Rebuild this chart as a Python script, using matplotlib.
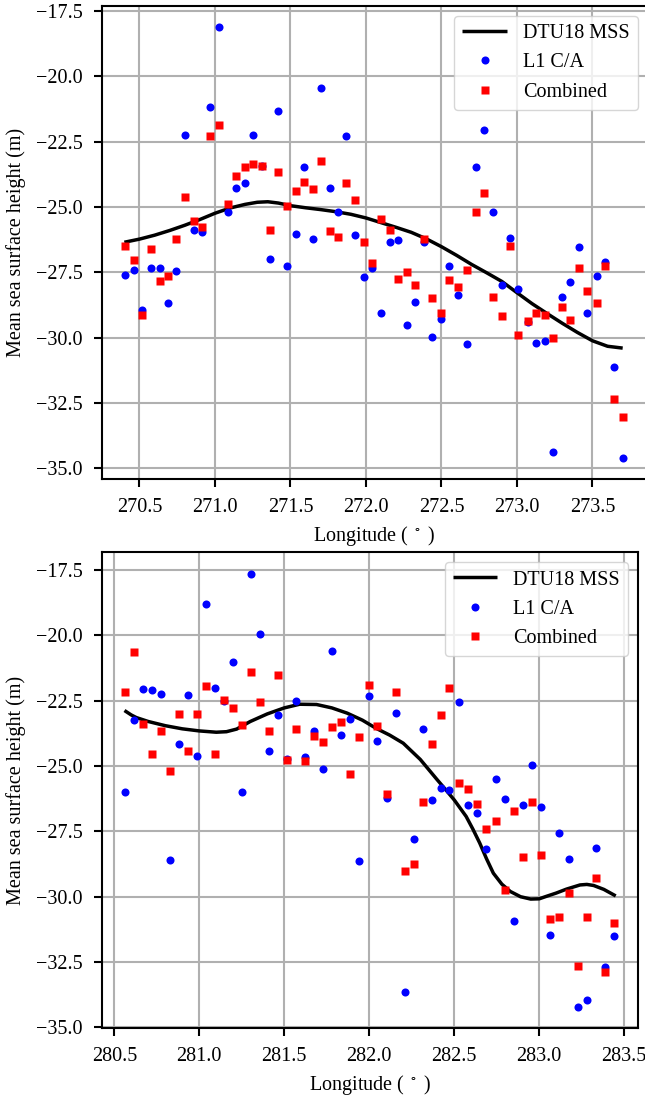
import matplotlib
matplotlib.use("Agg")
import matplotlib.pyplot as plt

plt.rcParams['font.family'] = ['Liberation Serif', 'DejaVu Serif']
plt.rcParams['mathtext.fontset'] = 'stix'
plt.rcParams['font.size'] = 14.5
plt.rcParams['axes.unicode_minus'] = True

# ---------------- Top panel data ----------------
top_lon = [270.405, 270.465, 270.52, 270.577, 270.635, 270.69, 270.745, 270.80, 270.86, 270.917,
           270.97, 271.03, 271.085, 271.14, 271.198, 271.255, 271.31, 271.365, 271.42, 271.476,
           271.535, 271.59, 271.65, 271.70, 271.76, 271.816, 271.87, 271.93, 271.99, 272.043,
           272.10, 272.158, 272.215, 272.273, 272.328, 272.383, 272.44, 272.498, 272.553, 272.61,
           272.668, 272.728, 272.783, 272.842, 272.90, 272.955, 273.01, 273.07, 273.127, 273.185,
           273.24, 273.297, 273.354, 273.412, 273.467, 273.53, 273.584, 273.642, 273.70]
top_l1 = [-27.62, -27.43, -28.96, -27.32, -27.32, -28.69, -27.44, -22.24, -25.90, -25.96,
          -21.19, -18.13, -25.19, -24.26, -24.07, -22.26, -23.42, -26.98, -21.33, -27.25,
          -26.04, -23.47, -26.23, -20.46, -24.26, -25.21, -22.29, -26.07, -27.67, -27.33,
          -29.06, -26.35, -26.25, -29.53, -28.62, -26.35, -29.98, -29.28, -27.25, -28.37,
          -30.23, -23.47, -22.05, -25.20, -27.98, -26.17, -28.14, -29.42, -30.21, -30.12,
          -34.37, -28.46, -27.87, -26.54, -29.07, -27.63, -27.11, -31.12, -34.60]
top_comb = [-26.49, -27.02, -29.15, -26.62, -27.85, -27.63, -26.22, -24.61, -25.53, -25.75,
            -22.28, -21.87, -24.89, -23.81, -23.46, -23.36, -23.42, -25.88, -23.68, -24.96,
            -24.38, -24.03, -24.32, -23.25, -25.91, -26.14, -24.08, -24.73, -26.33, -27.15,
            -25.45, -25.88, -27.74, -27.47, -27.99, -26.21, -28.50, -29.04, -27.81, -28.08,
            -27.40, -25.20, -24.47, -28.45, -29.19, -26.51, -29.89, -29.36, -29.05, -29.12,
            -30.00, -28.83, -29.32, -27.32, -28.21, -28.68, -27.24, -32.34, -33.04]
top_mss_lon = [270.40, 270.50, 270.60, 270.70, 270.80, 270.90, 271.00, 271.10, 271.20, 271.28,
               271.35, 271.42, 271.50, 271.60, 271.70, 271.80, 271.90, 272.00, 272.10, 272.20,
               272.30, 272.40, 272.50, 272.60, 272.70, 272.80, 272.90, 273.00, 273.10, 273.20,
               273.30, 273.40, 273.50, 273.60, 273.70]
top_mss = [-26.35, -26.23, -26.08, -25.90, -25.70, -25.48, -25.24, -25.04, -24.90, -24.82,
           -24.80, -24.85, -24.95, -25.03, -25.10, -25.18, -25.28, -25.42, -25.60, -25.78,
           -25.97, -26.22, -26.52, -26.85, -27.20, -27.52, -27.85, -28.28, -28.70, -29.08,
           -29.45, -29.80, -30.12, -30.33, -30.40]

# ---------------- Bottom panel data ----------------
bot_lon = [280.565, 280.618, 280.67, 280.722, 280.775, 280.828, 280.88, 280.934, 280.986, 281.039,
           281.092, 281.145, 281.198, 281.251, 281.304, 281.357, 281.41, 281.463, 281.518, 281.569,
           281.624, 281.676, 281.73, 281.782, 281.835, 281.888, 281.94, 281.996, 282.043, 282.102,
           282.155, 282.208, 282.261, 282.314, 282.367, 282.42, 282.47, 282.528, 282.58, 282.635,
           282.688, 282.743, 282.796, 282.85, 282.904, 282.957, 283.012, 283.065, 283.118, 283.173,
           283.226, 283.279, 283.334, 283.388, 283.441]
bot_l1 = [-26.00, -23.24, -22.05, -22.08, -22.23, -28.60, -24.17, -22.27, -24.61, -18.79,
          -22.03, -22.51, -21.02, -26.00, -17.65, -19.94, -24.43, -23.05, -24.74, -22.51,
          -24.64, -23.66, -25.11, -20.61, -23.80, -23.21, -28.63, -22.32, -24.04, -26.21,
          -22.96, -33.66, -27.80, -23.59, -26.31, -25.83, -25.91, -22.54, -26.51, -26.80,
          -28.16, -25.49, -26.27, -30.93, -26.49, -24.98, -26.57, -31.47, -27.58, -28.54,
          -34.20, -33.94, -28.14, -32.69, -31.52]
bot_comb = [-22.16, -20.64, -23.39, -24.56, -23.68, -25.21, -23.01, -24.43, -23.01, -21.93,
            -24.56, -22.47, -22.77, -23.42, -21.40, -22.54, -23.68, -21.54, -24.77, -23.57,
            -24.81, -23.84, -24.09, -23.51, -23.31, -25.31, -23.88, -21.90, -23.49, -26.07,
            -22.16, -29.02, -28.75, -26.38, -24.16, -23.07, -22.03, -25.66, -25.89, -26.45,
            -27.42, -27.09, -29.74, -26.74, -28.50, -26.37, -28.42, -30.85, -30.76, -29.86,
            -32.64, -30.76, -29.29, -32.87, -31.02]
bot_mss_lon = [280.56, 280.60, 280.63, 280.70, 280.80, 280.90, 281.00, 281.10, 281.16, 281.22,
               281.30, 281.40, 281.50, 281.59, 281.69, 281.78, 281.87, 281.96, 282.04, 282.12,
               282.20, 282.30, 282.40, 282.45, 282.50, 282.57, 282.61, 282.65, 282.69, 282.73,
               282.78, 282.83, 282.89, 282.95, 283.00, 283.04, 283.10, 283.16, 283.24, 283.28,
               283.32, 283.38, 283.45]
bot_mss = [-22.88, -23.05, -23.15, -23.30, -23.46, -23.58, -23.66, -23.71, -23.69, -23.59,
           -23.30, -23.01, -22.78, -22.64, -22.65, -22.78, -22.98, -23.25, -23.56, -23.82,
           -24.13, -24.75, -25.53, -25.91, -26.30, -26.93, -27.42, -27.95, -28.55, -29.10,
           -29.52, -29.80, -30.00, -30.09, -30.08, -29.99, -29.86, -29.71, -29.55, -29.53,
           -29.57, -29.72, -29.97]

W, H = 645, 1097
fig = plt.figure(figsize=(W / 100, H / 100), dpi=100)

def px_axes(left, top, right, bottom):
    return [left / W, 1 - bottom / H, (right - left) / W, (bottom - top) / H]

ax1 = fig.add_axes(px_axes(101.7, 6, 647.6, 479.3))
ax2 = fig.add_axes(px_axes(101.7, 552.3, 638, 1028))

panels = [
    (ax1, top_mss_lon, top_mss, top_lon, top_l1, top_comb, (270.25, 273.865), (-35.42, -17.31)),
    (ax2, bot_mss_lon, bot_mss, bot_lon, bot_l1, bot_comb, (280.426, 283.581), (-35.02, -16.83)),
]

for ax, mlon, mss, lon, l1, comb, xl, yl in panels:
    ax.plot(mlon, mss, color='black', lw=2.5, label='DTU18 MSS', zorder=3,
            solid_capstyle='butt', solid_joinstyle='round')
    ax.plot(lon, l1, 'o', color='blue', ms=5.8, mec='none', label='L1 C/A', zorder=4)
    ax.plot(lon, comb, 's', color='red', ms=5.2, mec='none', label='Combined', zorder=5)
    ax.set_xlim(*xl)
    ax.set_ylim(*yl)
    ax.set_xticks([t for t in [270.5, 271.0, 271.5, 272.0, 272.5, 273.0, 273.5,
                               280.5, 281.0, 281.5, 282.0, 282.5, 283.0, 283.5]
                   if xl[0] <= t <= xl[1]])
    ax.set_yticks([-35.0, -32.5, -30.0, -27.5, -25.0, -22.5, -20.0, -17.5])
    ax.grid(True, color='#b0b0b0', lw=1.5)
    ax.set_axisbelow(True)
    for s in ax.spines.values():
        s.set_linewidth(1.5)
    ax.tick_params(width=1.5, length=6, pad=7.5, labelsize=14.5)
    ax.set_xlabel(r'Longitude ( $^\circ$ )', fontsize=14.5, labelpad=5)
    ax.set_ylabel('Mean sea surface height (m)', fontsize=14.5, labelpad=7)
    ax.legend(loc='upper right', fontsize=14.5, framealpha=0.8, handlelength=2.2,
              borderaxespad=0.5)

fig.savefig('out.png', dpi=100)
